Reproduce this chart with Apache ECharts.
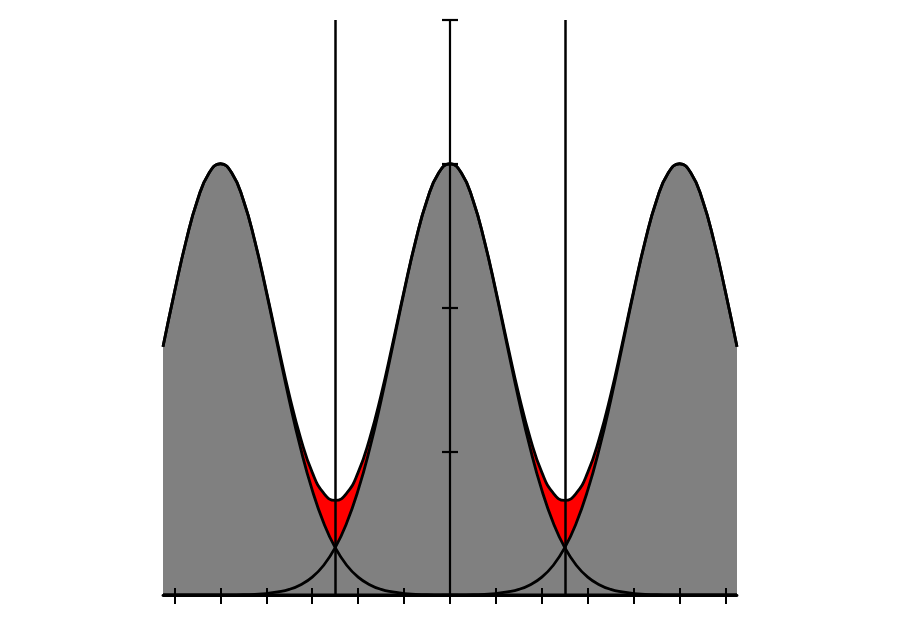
<!DOCTYPE html>
<html>
<head>
<meta charset="utf-8">
<script src="https://cdn.jsdelivr.net/npm/echarts@6/dist/echarts.min.js"></script>
<style>html,body{margin:0;padding:0;background:#fff;}#c{width:900px;height:630px;}</style>
</head>
<body>
<div id="c"></div>
<script>
// x positions (step 0.1)
const xs = [-2.5,-2.4,-2.3,-2.2,-2.1,-2.0,-1.9,-1.8,-1.7,-1.6,-1.5,-1.4,-1.3,-1.2,-1.1,-1.0,-0.9,-0.8,-0.7,-0.6,-0.5,-0.4,-0.3,-0.2,-0.1,0.0,
            0.1,0.2,0.3,0.4,0.5,0.6,0.7,0.8,0.9,1.0,1.1,1.2,1.3,1.4,1.5,1.6,1.7,1.8,1.9,2.0,2.1,2.2,2.3,2.4,2.5];
// left peak (centre -2)
const curveLeft = [1.727,2.107,2.459,2.746,2.934,3.000,2.934,2.746,2.459,2.107,1.727,1.354,1.016,0.729,0.501,0.329,0.207,0.124,0.072,0.039,0.021,0.010,0.005,0.002,0.001,
                   0,0,0,0,0,0,0,0,0,0,0,0,0,0,0,0,0,0,0,0,0,0,0,0,0,0];
// middle peak (centre 0)
const curveMid = [0,0,0,0,0,0,0.001,0.002,0.005,0.010,0.021,0.039,0.072,0.124,0.207,0.329,0.501,0.729,1.016,1.354,1.727,2.107,2.459,2.746,2.934,3.000,
                  2.934,2.746,2.459,2.107,1.727,1.354,1.016,0.729,0.501,0.329,0.207,0.124,0.072,0.039,0.021,0.010,0.005,0.002,0.001,0,0,0,0,0,0];
// right peak (centre 2)
const curveRight = [0,0,0,0,0,0,0,0,0,0,0,0,0,0,0,0,0,0,0,0,0,0,0,0,0,0,
                    0.001,0.002,0.005,0.010,0.021,0.039,0.072,0.124,0.207,0.329,0.501,0.729,1.016,1.354,1.727,2.107,2.459,2.746,2.934,3.000,2.934,2.746,2.459,2.107,1.727];
const xTicks = [-2.4,-2.0,-1.6,-1.2,-0.8,-0.4,0,0.4,0.8,1.2,1.6,2.0,2.4];
const vLines = [-1, 1];

const sum = xs.map((x,i)=>[x, curveLeft[i]+curveMid[i]+curveRight[i]]);
const pts = arr => xs.map((x,i)=>[x, arr[i]]);

const chart = echarts.init(document.getElementById('c'));
const fill = (data, color) => ({
  type:'line', data, smooth:true, showSymbol:false, silent:true,
  lineStyle:{width:0, opacity:0}, areaStyle:{color, opacity:1}
});
const line = (data, extra) => Object.assign({
  type:'line', data, smooth:true, showSymbol:false, silent:true,
  lineStyle:{width:2.8, color:'#000'}
}, extra||{});

const xBase = {type:'value', min:-2.5, max:2.5, position:'bottom',
  axisLabel:{show:false}, splitLine:{show:false}, z:10};
const yBase = {type:'value', min:0, max:4, interval:1, position:'left',
  axisLabel:{show:false}, splitLine:{show:false}, z:10};

chart.setOption({
  animation:false,
  backgroundColor:'#fff',
  grid:{left:163, right:163, top:20, bottom:35},
  xAxis:[
    Object.assign({}, xBase, {axisLine:{show:true, onZero:false, lineStyle:{color:'#000', width:2.8}},
      axisTick:{show:true, customValues:xTicks, inside:false, length:9, lineStyle:{color:'#000', width:2}}}),
    Object.assign({}, xBase, {axisLine:{show:false, onZero:false},
      axisTick:{show:true, customValues:xTicks, inside:true, length:7, lineStyle:{color:'#000', width:2}}})
  ],
  yAxis:[
    Object.assign({}, yBase, {axisLine:{show:true, onZero:true, lineStyle:{color:'#000', width:2.2}},
      axisTick:{show:true, inside:false, length:8, lineStyle:{color:'#000', width:2.2}}}),
    Object.assign({}, yBase, {axisLine:{show:false, onZero:true},
      axisTick:{show:true, inside:true, length:8, lineStyle:{color:'#000', width:2.2}}})
  ],
  series:[
    fill(sum, '#ff0000'),
    fill(pts(curveLeft), '#808080'),
    fill(pts(curveMid), '#808080'),
    fill(pts(curveRight), '#808080'),
    line(sum, {markLine:{silent:true, symbol:['none','none'], label:{show:false},
      lineStyle:{color:'#000', width:2.5, type:'solid'},
      data: vLines.map(v=>({xAxis:v}))}}),
    line(pts(curveLeft)),
    line(pts(curveMid)),
    line(pts(curveRight))
  ]
});
</script>
</body>
</html>
